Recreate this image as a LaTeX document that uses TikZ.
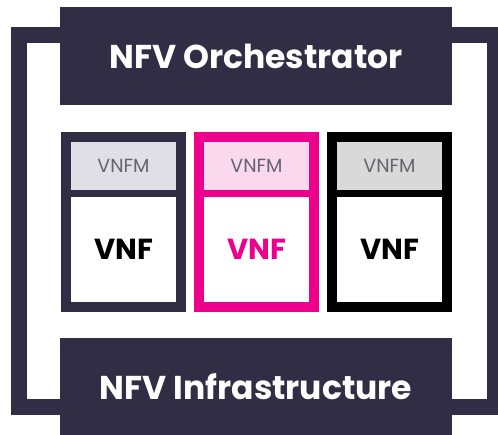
\documentclass[tikz,border=0pt]{standalone}
\usepackage{fontspec}
\setmainfont{Poppins}
\usetikzlibrary{positioning}

\definecolor{navy}{RGB}{48,45,69}
\definecolor{hotpink}{RGB}{236,0,140}
\definecolor{lavgray}{RGB}{224,223,230}
\definecolor{pinklight}{RGB}{250,217,236}
\definecolor{softgray}{RGB}{217,217,217}
\definecolor{vnfmtext}{RGB}{100,100,110}

\begin{document}
\begin{tikzpicture}[
    x=1pt, y=-1pt,
    layer/.style={rectangle, fill=navy, text=white, minimum width=392pt, inner sep=0pt, font=\bfseries\fontsize{33}{36}\selectfont},
    column/.style={rectangle, draw=#1, fill=#1, line width=10pt, minimum width=115pt, minimum height=170pt},
    vnfm/.style={rectangle, fill=#1, minimum width=105pt, minimum height=48pt, inner sep=0pt, outer sep=0pt, text=vnfmtext, font=\fontsize{19}{22}\selectfont},
    vnf/.style={rectangle, fill=white, minimum width=105pt, minimum height=105pt, inner sep=0pt, outer sep=0pt, text=#1, font=\bfseries\fontsize{29}{32}\selectfont},
    link/.style={draw=navy, line width=16pt}
]
\useasboundingbox (0,0) rectangle (498,435);

% Layers
\node (orch) [layer, minimum height=98pt] at (256,56) {NFV Orchestrator};
\node (infra) [layer, minimum height=97pt] at (256,386.5) {NFV Infrastructure};

% Columns
\node (col1) [column=navy] at (123.5,222) {};
\node (col2) [column=hotpink, right=8pt of col1] {};
\node (col3) [column=black, right=8pt of col2] {};

\node (vnfm1) [vnfm=lavgray, below=10pt of col1.north] {VNFM};
\node (vnfm2) [vnfm=pinklight, below=10pt of col2.north] {VNFM};
\node (vnfm3) [vnfm=softgray, below=10pt of col3.north] {VNFM};

\node (vnf1) [vnf=black, below=7pt of vnfm1] {VNF};
\node (vnf2) [vnf=hotpink, below=7pt of vnfm2] {VNF};
\node (vnf3) [vnf=black, below=7pt of vnfm3] {VNF};

% Links between orchestrator and infrastructure
\draw [link] ([yshift=21pt]orch.west) -| ([xshift=-41pt,yshift=-20.5pt]infra.west) -- ([yshift=-20.5pt]infra.west);
\draw [link] ([yshift=21pt]orch.east) -| ([xshift=43pt,yshift=-20.5pt]infra.east) -- ([yshift=-20.5pt]infra.east);

\end{tikzpicture}
\end{document}
